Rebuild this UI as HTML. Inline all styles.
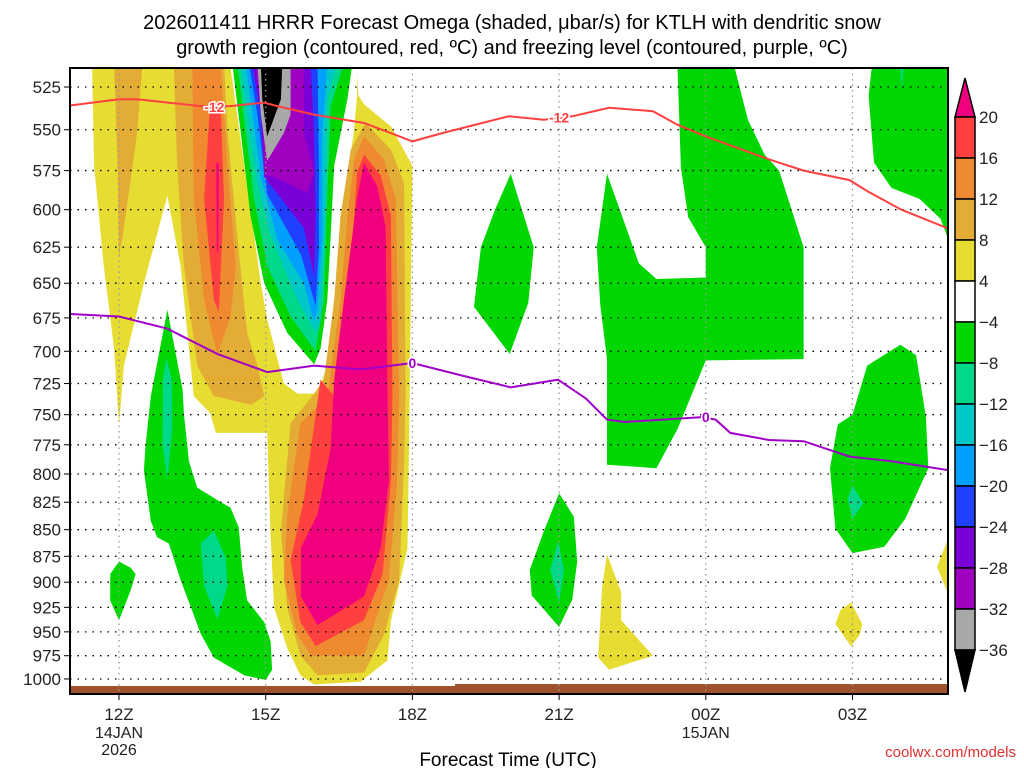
<!DOCTYPE html>
<html><head><meta charset="utf-8"><style>
body{margin:0;background:#fff;width:1024px;height:768px;overflow:hidden;font-family:"Liberation Sans",sans-serif}
svg text{font-family:"Liberation Sans",sans-serif}
</style></head><body>
<svg id="chart" width="1024" height="768" xmlns="http://www.w3.org/2000/svg">
<text x="512" y="29" font-size="20" text-anchor="middle">2026011411 HRRR Forecast Omega (shaded, μbar/s) for KTLH with dendritic snow</text>
<text x="512" y="54" font-size="20" text-anchor="middle">growth region (contoured, red, ºC) and freezing level (contoured, purple, ºC)</text>
<defs><clipPath id="pc"><rect x="70" y="68" width="878" height="626"/></clipPath></defs>
<g id="fills" clip-path="url(#pc)"></g>
<g id="grid"></g>
<g id="lines" clip-path="url(#pc)"></g>
<g id="axes"></g>
<g id="cbar"></g>
<text x="508" y="766" font-size="19" text-anchor="middle">Forecast Time (UTC)</text>
<text x="1016" y="757" font-size="15" fill="#e03030" text-anchor="end">coolwx.com/models</text>
</svg>
<script>
const pLevels=[525,550,575,600,625,650,675,700,725,750,775,800,825,850,875,900,925,950,975,1000];
const xTickHours=[0,3,6,9,12,15];
const xTickLabels=["12Z","15Z","18Z","21Z","00Z","03Z"];
const xDateLabels={0:["14JAN","2026"],12:["15JAN"]};
const cbLevels=[20,16,12,8,4,-4,-8,-12,-16,-20,-24,-28,-32,-36];
const cbColors=["#ff4040","#f08a30","#e3ad35","#e6dc32","#ffffff","#00d600","#00d88a","#00c8c8","#00a0ff","#2040ff","#7a00d8","#a000c0","#a8a8a8"];
const C={y:"#e6dc32",o1:"#e3ad35",o2:"#f08a30",r:"#ff4040",m:"#f0007f",w:"#ffffff",g:"#00d600",t:"#00d88a",c:"#00c8c8",b1:"#00a0ff",b2:"#2040ff",p1:"#7a00d8",p2:"#a000c0",gr:"#a8a8a8",k:"#000000"};
const yellowMain=[[-0.55,514],[-0.51,572],[-0.31,638],[-0.1,698],[0,758],[0.1,711],[0.51,650],[0.99,591],[1.26,638],[1.53,735],[1.87,749],[1.98,765],[3.03,765],[3.1,856],[3.17,925],[3.44,967],[3.71,996],[3.99,1006],[4.94,1003],[5.49,980],[5.56,939],[5.9,867],[5.93,777],[6.0,572],[5.56,548],[5.01,535],[4.9,530],[4.85,512],[-0.55,512]];
const whiteGap=[[2.28,512],[2.28,514],[2.56,572],[2.9,650],[3.03,676],[3.37,725],[3.65,733],[4.06,733],[4.26,711],[4.4,662],[4.6,593],[4.8,552],[4.87,530],[4.87,512]];
const leftO1=[[-0.1,512],[0.48,512],[0.37,552],[0.1,612],[0,632],[-0.03,572]];
const rightO1=[[1.12,512],[2.15,512],[2.22,552],[2.42,618],[2.62,686],[2.83,711],[2.97,735],[2.7,742],[1.94,735],[1.6,711],[1.33,638],[1.19,572]];
const rightO2=[[1.5,512],[2.08,512],[2.22,572],[2.39,638],[2.28,674],[2.01,703],[1.74,662],[1.53,593]];
const rightR=[[1.87,532],[2.08,538],[2.15,593],[2.04,671],[1.94,662],[1.74,593]];
const rightM=[[1.99,570],[2.04,570],[2.03,628],[2.0,628]];
const tongueG=[[2.32,512],[4.77,512],[4.67,532],[4.4,572],[4.33,617],[4.26,662],[4.12,698],[3.99,710],[3.44,686],[2.97,650],[2.69,604],[2.49,552]];
const tongueT=[[2.42,512],[4.6,512],[4.33,536],[4.26,593],[4.19,662],[4.02,700],[3.51,674],[3.03,638],[2.76,593],[2.59,552]];
const tongueC=[[2.49,512],[4.46,512],[4.26,532],[4.22,604],[4.12,677],[4.02,686],[3.65,662],[3.1,617],[2.83,583],[2.62,541]];
const tongueB1=[[2.59,512],[4.26,512],[4.16,552],[4.16,617],[4.06,669],[3.99,678],[3.78,650],[3.24,620],[2.9,579],[2.69,532]];
const tongueB2=[[2.66,512],[4.06,512],[4.09,572],[4.09,626],[4.02,666],[3.72,630],[3.03,590],[2.83,541]];
const tongueP1=[[2.73,512],[3.92,512],[3.99,552],[4.02,604],[3.99,645],[3.78,612],[3.37,595],[2.97,579],[2.9,541]];
const tongueP2=[[2.79,512],[3.78,512],[3.78,552],[3.99,576],[3.85,589],[3.24,580],[2.97,577],[2.93,541]];
const tongueGr=[[2.83,512],[3.51,512],[3.51,541],[3.37,552],[3.03,569],[2.9,541]];
const tongueK=[[2.9,512],[3.34,512],[3.31,532],[3.03,554],[2.93,532]];
const blobO1=[[5.04,546],[5.56,562],[5.83,583],[5.86,735],[5.83,792],[5.73,898],[5.42,953],[5.01,993],[4.06,996],[3.71,975],[3.44,925],[3.31,851],[3.51,757],[3.99,733],[4.19,722],[4.4,662],[4.53,604],[4.74,562]];
const blobO2=[[5.01,554],[5.42,568],[5.66,593],[5.73,735],[5.69,806],[5.52,898],[5.15,953],[5.01,975],[3.92,975],[3.65,953],[3.37,898],[3.44,836],[3.71,757],[4.26,735],[4.53,662],[4.67,604],[4.81,568]];
const blobR=[[5.01,565],[5.35,578],[5.56,604],[5.59,735],[5.56,806],[5.39,892],[5.01,938],[4.02,965],[3.71,940],[3.51,879],[3.78,823],[4.12,722],[4.4,735],[4.67,662],[4.81,604],[4.87,576]];
const blobM=[[5.01,570],[5.28,585],[5.45,611],[5.49,735],[5.52,806],[5.35,867],[5.01,914],[4.06,943],[3.72,914],[3.72,867],[4.06,836],[4.33,778],[4.4,722],[4.6,662],[4.87,593]];
const lowG=[[0.99,669],[1.3,730],[1.33,750],[1.43,789],[1.6,812],[2.01,823],[2.28,830],[2.45,848],[2.52,886],[2.62,918],[2.97,940],[3.1,960],[3.13,990],[3.0,1001],[2.56,996],[1.94,977],[1.67,952],[1.47,925],[1.26,898],[1.02,863],[0.78,857],[0.65,842],[0.51,797],[0.54,777],[0.65,735]];
const lowT1=[[0.97,705],[1.08,722],[1.09,762],[0.99,805],[0.89,775],[0.9,722]];
const lowT2=[[1.94,851],[2.18,876],[2.22,904],[2.01,937],[1.74,904],[1.67,863]];
const smallG=[[0,880],[0.24,886],[0.34,892],[0.24,908],[0,938],[-0.18,918],[-0.18,892]];
const blobA=[[8.01,577],[8.48,625],[8.37,664],[7.99,702],[7.26,667],[7.4,625],[7.69,600]];
const blobB=[[11.42,512],[11.49,573],[11.64,605],[12.0,625],[12.0,646],[10.99,647],[10.63,636],[9.98,577],[9.77,625],[9.84,665],[9.98,706],[9.98,792],[10.99,795],[11.42,762],[12.0,707],[14.0,706],[14.0,625],[13.5,575],[13.2,565],[12.86,544],[12.57,512]];
const blobC=[[15.4,512],[15.33,530],[15.44,570],[15.8,586],[16.37,593],[16.8,606],[16.95,619],[17.2,625],[17.2,512]];
const blobCT=[[15.97,512],[16.05,512],[16.01,527]];
const blobD=[[15.98,695],[16.3,703],[16.5,752],[16.55,795],[16.08,840],[15.65,866],[15.0,872],[14.65,849],[14.54,795],[14.7,758],[15.0,750],[15.3,711]];
const blobDT=[[15.0,810],[15.22,826],[15.0,840],[14.9,822]];
const blobE=[[9.0,817],[9.3,838],[9.37,880],[9.27,917],[9.0,945],[8.44,913],[8.4,888],[8.7,850]];
const blobET=[[8.98,861],[9.1,888],[9.0,920],[8.82,888]];
const yelF=[[9.98,873],[10.27,910],[10.27,938],[10.92,975],[10.02,990],[9.8,977],[9.88,905]];
const yelG=[[14.97,920],[15.2,942],[15.15,953],[14.97,965],[14.65,942],[14.75,928]];
const yelH=[[17.2,850],[17.0,853],[16.73,885],[17.0,917],[17.2,920]];
const redLine=[[-1.1,536],[0,532],[0.37,532],[1.67,536],[2.28,536],[2.97,534],[3.24,536],[3.99,541],[5.01,546],[5.56,552],[6.0,557],[6.61,552],[7.97,542],[8.69,544],[9.27,542],[10.02,537],[10.92,539],[11.42,547],[12.0,554],[13.29,568],[14.0,575],[14.94,581],[15.3,588],[16.0,600],[17.0,613]];
const purpleLine=[[-1.1,672],[0,674],[0.99,683],[2.01,702],[3.03,716],[3.99,711],[4.94,714],[6.0,709],[7.04,719],[8.01,728],[8.98,722],[9.55,737],[9.98,754],[10.34,756],[11.92,752],[12.2,754],[12.5,765],[13.29,771],[14.0,772],[14.94,785],[15.8,789],[17.0,797]];
const redLabels=[[1.95,536],[9.0,542]];
const purpleLabels=[[6.0,709],[12.0,752]];

const NS="http://www.w3.org/2000/svg";
function X(h){return 119+48.9*h;}
function Y(p){return 87+918.7*Math.log(p/525);}
function mk(tag,attrs,parent){const e=document.createElementNS(NS,tag);for(const k in attrs)e.setAttribute(k,attrs[k]);parent.appendChild(e);return e;}
const fills=document.getElementById('fills');
const layers=[
 ["yellow-main",yellowMain,C.y],["white-gap",whiteGap,C.w],["left-8-12",leftO1,C.o1],["right-8-12",rightO1,C.o1],["right-12-16",rightO2,C.o2],["right-16-20",rightR,C.r],["right-20",rightM,C.m],
 ["tongue-green",tongueG,C.g],["tongue-teal",tongueT,C.t],["tongue-cyan",tongueC,C.c],["tongue-lightblue",tongueB1,C.b1],["tongue-blue",tongueB2,C.b2],["tongue-purple",tongueP1,C.p1],["tongue-violet",tongueP2,C.p2],["tongue-grey",tongueGr,C.gr],["tongue-black",tongueK,C.k],
 ["blob-8-12",blobO1,C.o1],["blob-12-16",blobO2,C.o2],["blob-16-20",blobR,C.r],["blob-20",blobM,C.m],
 ["low-green",lowG,C.g],["low-teal-1",lowT1,C.t],["low-teal-2",lowT2,C.t],["small-green",smallG,C.g],
 ["green-a",blobA,C.g],["green-b",blobB,C.g],["green-c",blobC,C.g],["teal-c",blobCT,C.t],["green-d",blobD,C.g],["teal-d",blobDT,C.t],["green-e",blobE,C.g],["teal-e",blobET,C.t],
 ["yellow-f",yelF,C.y],["yellow-g",yelG,C.y],["yellow-h",yelH,C.y]];
layers.forEach(([n,pts,col])=>{
 const e=mk('polygon',{points:pts.map(q=>X(q[0]).toFixed(1)+','+Y(q[1]).toFixed(1)).join(' '),fill:col},fills);
 
 
});
const g=mk('rect',{x:70,y:686,width:385,height:8,fill:'#a0522d'},fills);


const g2=mk('rect',{x:455,y:684,width:495,height:10,fill:'#a0522d'},fills);



const grid=document.getElementById('grid');
pLevels.forEach(p=>{const l=mk('line',{x1:70,x2:948,y1:Y(p),y2:Y(p),stroke:'#000','stroke-width':1.3,'stroke-dasharray':'1.5 6'},grid);
 
 });
xTickHours.forEach(h=>{const l=mk('line',{x1:X(h),x2:X(h),y1:68,y2:694,stroke:'#999','stroke-width':1.3,'stroke-dasharray':'1.5 4'},grid);
 
 });

const lines=document.getElementById('lines');
function path(arr){return arr.map((q,i)=>(i?'L':'M')+X(q[0]).toFixed(1)+' '+Y(q[1]).toFixed(1)).join(' ');}
const rl=mk('path',{d:path(redLine),fill:'none',stroke:'#ff4040','stroke-width':2},lines);


const pl=mk('path',{d:path(purpleLine),fill:'none',stroke:'#a000c8','stroke-width':2},lines);


redLabels.forEach(q=>{
 const t=mk('text',{x:X(q[0]),y:Y(q[1])+6,'font-size':14,'font-weight':'bold',fill:'#ff4040','text-anchor':'middle',stroke:'#fff','stroke-width':3,'paint-order':'stroke'},lines);t.textContent='-12';
 
 });
purpleLabels.forEach(q=>{const t=mk('text',{x:X(q[0]),y:Y(q[1])+5,'font-size':14,'font-weight':'bold',fill:'#a000c8','text-anchor':'middle',stroke:'#fff','stroke-width':3,'paint-order':'stroke'},lines);t.textContent='0';
 
 });

const axes=document.getElementById('axes');
mk('rect',{x:70,y:68,width:878,height:626,fill:'none',stroke:'#000','stroke-width':2},axes);
pLevels.forEach(p=>{mk('line',{x1:64,x2:70,y1:Y(p),y2:Y(p),stroke:'#000'},axes);
 const t=mk('text',{x:61,y:Y(p)+6,'font-size':17,'text-anchor':'end',fill:'#222'},axes);t.textContent=p;
 
 });
xTickHours.forEach((h,i)=>{mk('line',{x1:X(h),x2:X(h),y1:694,y2:700,stroke:'#000'},axes);
 const t=mk('text',{x:X(h),y:720,'font-size':17,'text-anchor':'middle',fill:'#222'},axes);t.textContent=xTickLabels[i];
 
 
 (xDateLabels[h]||[]).forEach((s,j)=>{const d=mk('text',{x:X(h),y:738+j*17,'font-size':16,'text-anchor':'middle',fill:'#222'},axes);d.textContent=s;
  
  });});

const cb=document.getElementById('cbar');
const cbTop=117,cbStep=41,cx=955,cw=20;
function CY(i){return cbTop+i*cbStep;}
const up=mk('polygon',{points:`${cx},${CY(0)} ${cx+cw},${CY(0)} ${cx+cw/2},78`,fill:'#f0007f',stroke:'#000','stroke-width':1.5},cb);


cbColors.forEach((c,i)=>{const r=mk('rect',{x:cx,y:CY(i),width:cw,height:cbStep,fill:c,stroke:'#000','stroke-width':1.5},cb);
 
 });
const dn=mk('polygon',{points:`${cx},${CY(cbColors.length)} ${cx+cw},${CY(cbColors.length)} ${cx+cw/2},692`,fill:'#000',stroke:'#000','stroke-width':1.5},cb);


cbLevels.forEach((v,i)=>{const t=mk('text',{x:979,y:CY(i)+6,'font-size':17,fill:'#222'},cb);t.textContent=v<0?'\u2212'+(-v):v;
 
 });
</script>
</body></html>
